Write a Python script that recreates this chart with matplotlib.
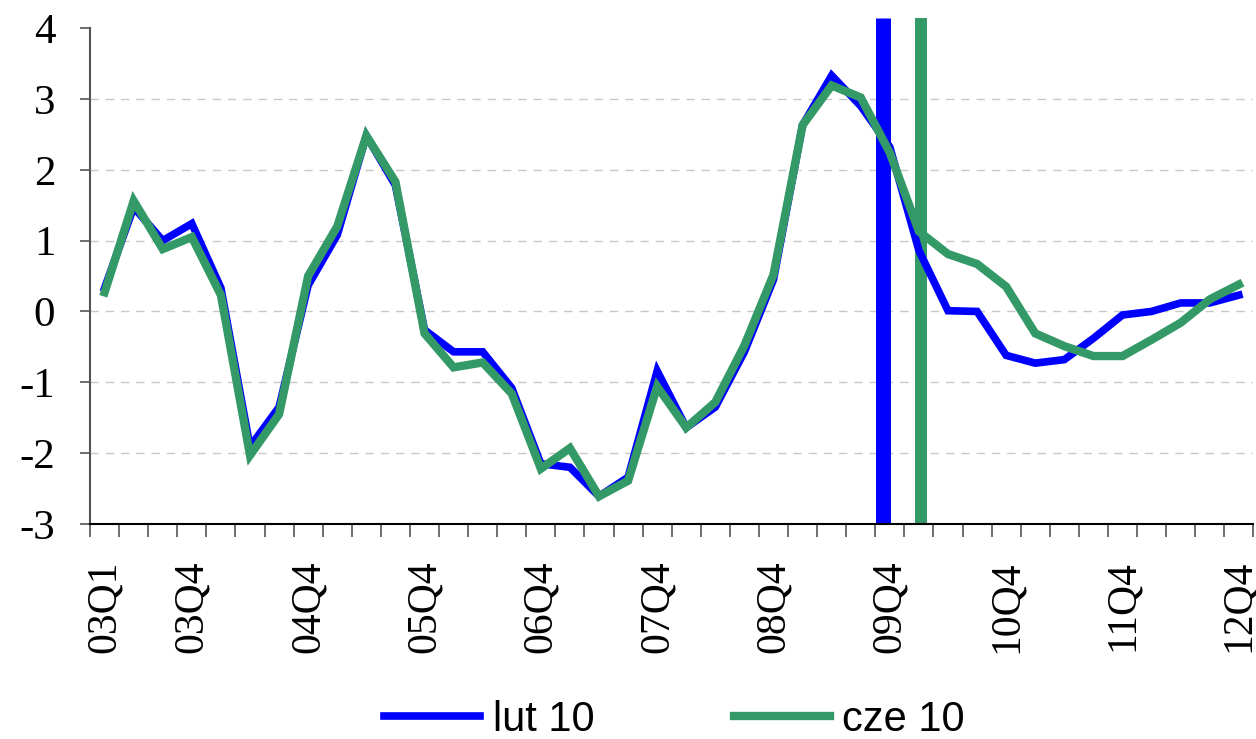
import numpy as np
import matplotlib.pyplot as plt

plt.rcParams['axes.unicode_minus'] = False

# quarters 03Q1 .. 12Q4
quarters = [f'{y:02d}Q{q}' for y in range(3, 13) for q in range(1, 5)]

lut10 = [0.33, 1.47, 1.00, 1.24, 0.33, -1.91, -1.35, 0.37, 1.08, 2.48,
         1.78, -0.26, -0.57, -0.57, -1.08, -2.15, -2.20, -2.61, -2.34, -0.84,
         -1.64, -1.35, -0.57, 0.45, 2.63, 3.33, 2.90, 2.32, 0.86, 0.01,
         0.00, -0.62, -0.73, -0.68, -0.38, -0.05, 0.00, 0.12, 0.12, 0.23]
cze10 = [0.27, 1.56, 0.88, 1.05, 0.23, -2.03, -1.45, 0.50, 1.20, 2.48,
         1.83, -0.31, -0.79, -0.72, -1.16, -2.22, -1.93, -2.61, -2.39, -1.06,
         -1.64, -1.28, -0.48, 0.52, 2.63, 3.19, 3.02, 2.24, 1.13, 0.81,
         0.67, 0.35, -0.31, -0.49, -0.63, -0.63, -0.40, -0.16, 0.17, 0.38]
shown_labels = ['03Q1', '03Q4', '04Q4', '05Q4', '06Q4', '07Q4',
                '08Q4', '09Q4', '10Q4', '11Q4', '12Q4']
# start of forecast in each projection round
forecast_lut = '09Q4'
forecast_cze = '10Q1'

blue = '#0000FF'
green = '#339966'

fig = plt.figure(figsize=(12.56, 7.39), dpi=100)
ax = fig.add_axes([0.0717, 0.291, 0.9262, 0.671])

x = np.arange(len(quarters))
ax.plot(x, lut10, color=blue, lw=5.5, solid_joinstyle='miter', label='lut 10', zorder=3)
ax.plot(x, cze10, color=green, lw=6, solid_joinstyle='miter', label='cze 10', zorder=4)

ax.axvline(quarters.index(forecast_lut) - 0.22, ymin=0, ymax=1.02, color=blue,
           lw=10.8, clip_on=False, solid_capstyle='butt', zorder=2)
ax.axvline(quarters.index(forecast_cze) + 0.06, ymin=0, ymax=1.02, color=green,
           lw=8.6, clip_on=False, solid_capstyle='butt', zorder=2)

ax.set_xlim(-0.5, len(quarters) - 0.5)
ax.set_ylim(-3, 4)
ax.set_yticks(range(-3, 5))
ax.set_yticklabels([str(v) for v in range(-3, 5)], fontsize=31, family='Liberation Serif')
for v in range(-2, 4):
    ax.axhline(v, color='#c8c8c8', lw=1, ls=(0, (6, 5)), zorder=1)

ax.set_xticks([quarters.index(q) for q in shown_labels])
ax.set_xticklabels(shown_labels, rotation=90, fontsize=30, family='Liberation Serif', va='top')
ax.set_xticks(np.arange(len(quarters) + 1) - 0.5, minor=True)
ax.tick_params(axis='x', which='major', length=0, pad=26)
ax.tick_params(axis='x', which='minor', length=9, width=1.2, color='#555555')
ax.tick_params(axis='y', length=7, width=1.2, color='#555555', pad=18)

for s in ['top', 'right']:
    ax.spines[s].set_visible(False)
ax.spines['left'].set_color('#555555')
ax.spines['left'].set_linewidth(1.5)
ax.spines['bottom'].set_linewidth(1.5)

fig.legend(loc='center', bbox_to_anchor=(0.537, 1 - 720 / 739), ncol=2, frameon=False,
           handlelength=2.3, columnspacing=3.35, handletextpad=0.3,
           prop={'family': 'Liberation Sans', 'size': 30})

fig.savefig('out.png', dpi=100)
